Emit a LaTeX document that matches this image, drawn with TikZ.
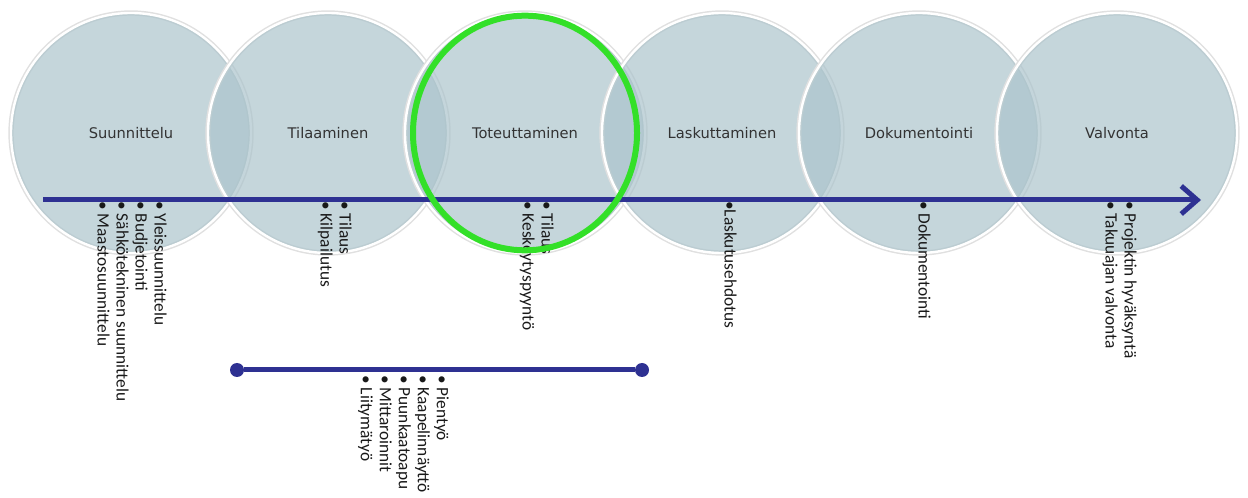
\documentclass[tikz,border=0pt]{standalone}
\usepackage{fontspec}
\setmainfont{Carlito}
\newfontfamily\titlefont{DejaVu Sans}
\usepackage{tikz}
\usetikzlibrary{arrows.meta}
\usetikzlibrary{shapes.geometric}
\usetikzlibrary{positioning}
\definecolor{phasefill}{RGB}{172,196,204}
\definecolor{navy}{RGB}{46,49,146}
\definecolor{marker}{RGB}{51,224,40}
\tikzset{
  >=latex,
  % common line styles
  timeline/.style={draw=navy, line width=3.75pt, -{Straight Barb[length=12pt, width=21pt]}},
  spanline/.style={draw=navy, line width=3.75pt}
}

\begin{document}
\begin{tikzpicture}[x=0.75pt, y=-0.75pt]
    % Define styles
    \tikzstyle{phase} = [circle, minimum size=180pt, fill=phasefill, fill opacity=0.7, text opacity=1, draw=white, line width=1.8pt, preaction={draw=black!12, line width=4pt}, text=black!80, font=\titlefont\fontsize{11}{13}\selectfont]
    \tikzstyle{items} = [rotate=-90, anchor=north west, align=left, inner sep=0pt, text=black!90, font=\fontsize{13}{14.25}\selectfont]
    \tikzstyle{dot} = [circle, fill=navy, inner sep=0pt, minimum size=10.5pt]
    \tikzstyle{focus} = [ellipse, draw=marker, line width=4.5pt, minimum width=168pt, minimum height=176pt]

    \useasboundingbox (0,0) rectangle (1248,498);

    % Place nodes
    \node [phase] (plan) at (131,133) {Suunnittelu};
    \node [phase] (order) at (328,133) {Tilaaminen};
    \node [phase] (build) at (525,133) {Toteuttaminen};
    \node [phase] (bill) at (722,133) {Laskuttaminen};
    \node [phase] (doc) at (919,133) {Dokumentointi};
    \node [phase] (watch) at (1117,133) {Valvonta};

    \coordinate (start) at (43,200);
    \coordinate (end) at (1201,200);

    \node [items] (planlist) at (167,201) {• Yleissuunnittelu\\• Budjetointi\\• Sähkötekninen suunnittelu\\• Maastosuunnittelu};
    \node [items] (orderlist) at (352,201) {• Tilaus\\• Kilpailutus};
    \node [items] (buildlist) at (554,201) {• Tilaus\\• Keskeytyspyyntö};
    \node [items] (billlist) at (737,201) {•Laskutusehdotus};
    \node [items] (doclist) at (931,201) {• Dokumentointi};
    \node [items] (watchlist) at (1137,201) {• Projektin hyväksyntä\\• Takuuajan valvonta};

    \node [dot] (from) at (237,370) {};
    \node [dot] (to) at (642,370) {};
    \node [items] (worklist) at (449,375) {• Pientyö\\• Kaapelinnäyttö\\• Puunkaatoapu\\• Mittaroinnit\\• Liitymätyö};

    % Draw edges
    \draw [timeline] (start) -- (end);
    \draw [spanline] (from) -- (to);

    % current phase
    \node [focus] (now) at (525,133) {};
\end{tikzpicture}
\end{document}
